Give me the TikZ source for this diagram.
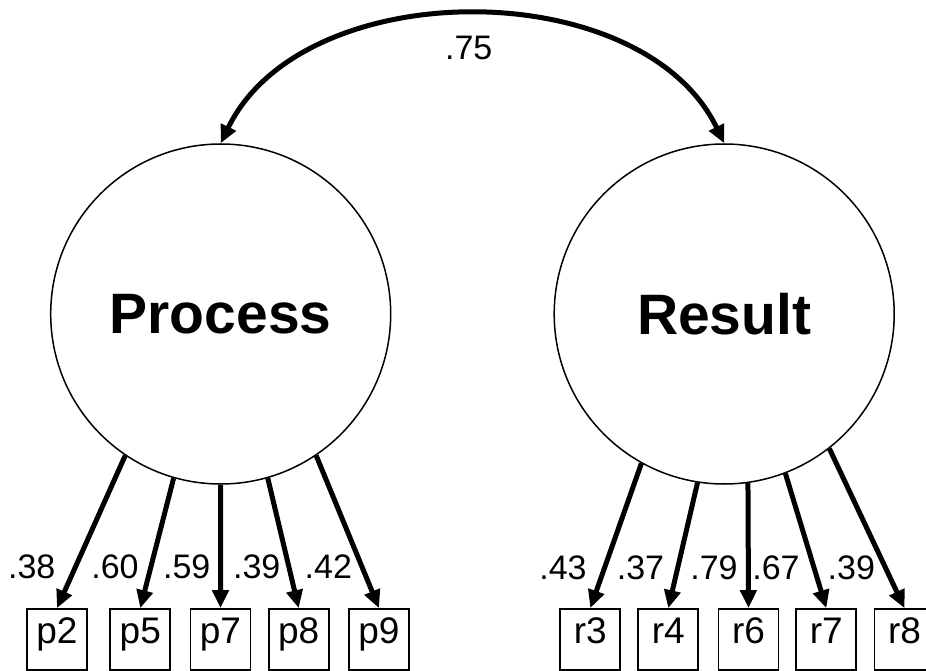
\documentclass[tikz,border=0pt]{standalone}
\usepackage{fontspec}
\setmainfont{Liberation Sans}
\usetikzlibrary{arrows.meta}
\begin{document}
\begin{tikzpicture}[x=1pt,y=-1pt,
  latent/.style={circle,draw,line width=1.5pt,minimum size=340pt,inner sep=0pt,
    font=\fontsize{57}{60}\selectfont\bfseries},
  obs/.style={rectangle,draw,line width=1.7pt,minimum width=60pt,minimum height=61pt,
    inner sep=0pt,text height=0.72em,text depth=0pt,font=\fontsize{37}{40}\selectfont},
  lab/.style={inner sep=0pt,font=\fontsize{34}{38}\selectfont},
  tipA/.tip={Triangle[length=18pt,width=16pt]},
  load/.style={line width=5pt,-tipA},
  cov/.style={line width=5pt,tipA-tipA}]
\fill[white] (0,0) rectangle (926,671);
\useasboundingbox (0,0) rectangle (926,671);
% latent variables
\node[latent] (P) at (220.7,314) {Process};
\node[latent] (R) at (724.2,314) {Result};
% observed variables
\node[obs] (p2) at (57,639.5) {p2};
\node[obs] (p5) at (140.3,639.5) {p5};
\node[obs] (p7) at (220.5,639.5) {p7};
\node[obs] (p8) at (298.7,639.5) {p8};
\node[obs] (p9) at (379,639.5) {p9};
\node[obs] (r3) at (590.3,639.5) {r3};
\node[obs] (r4) at (668.3,639.5) {r4};
\node[obs] (r6) at (748.5,639.5) {r6};
\node[obs] (r7) at (826.3,639.5) {r7};
\node[obs] (r8) at (904.5,639.5) {r8};
% covariance
\coordinate (c1) at (303,-27);
\coordinate (c2) at (642,-27);
\draw[cov] (P.north) .. controls (c1) and (c2) .. (R.north);
\node[lab] (l75) at (468.7,48.3) {.75};
% loadings
\draw[load] (P.236) -- (p2.north);
\draw[load] (P.254) -- (p5.north);
\draw[load] (P.270) -- (p7.north);
\draw[load] (P.286) -- (p8.north);
\draw[load] (P.304) -- (p9.north);
\draw[load] (R.241.5) -- (r3.north);
\draw[load] (R.261) -- (r4.north);
\draw[load] (R.278) -- (r6.north);
\draw[load] (R.291) -- (r7.north);
\draw[load] (R.308) -- (r8.north);
% loading labels
\node[lab] (l38) at (31.7,567) {.38};
\node[lab] (l60) at (115,567) {.60};
\node[lab] (l59) at (186.7,567) {.59};
\node[lab] (l39a) at (256.7,567) {.39};
\node[lab] (l42) at (328.3,567) {.42};
\node[lab] (l43) at (563,568) {.43};
\node[lab] (l37) at (640.5,568) {.37};
\node[lab] (l79) at (714,568) {.79};
\node[lab] (l67) at (776,568) {.67};
\node[lab] (l39b) at (851.3,568) {.39};
\end{tikzpicture}
\end{document}
